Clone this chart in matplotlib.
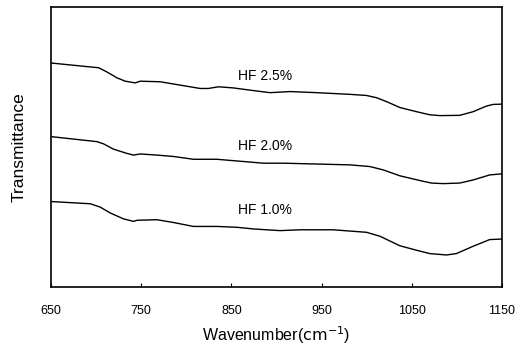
import matplotlib.pyplot as plt

plt.rcParams['font.family'] = ['Liberation Sans', 'DejaVu Sans']

# wavenumber (cm-1) and transmittance (arbitrary units)
x_25 = [650, 702.8, 712, 723.1, 732.3, 743.4, 748.9, 771, 793.2, 815.3, 824.5, 835.6,
        852.2, 870.7, 892.8, 914.9, 944.5, 981.4, 999.8, 1010.9, 1022, 1036.7, 1055.2,
        1069.9, 1081, 1103.1, 1117.9, 1132.7, 1140, 1150]
t_25 = [80.0, 78.3, 76.8, 74.7, 73.5, 72.9, 73.5, 73.3, 72.1, 70.9, 70.9, 71.5,
        71.1, 70.3, 69.4, 69.8, 69.4, 68.8, 68.4, 67.6, 66.2, 64.1, 62.6,
        61.5, 61.2, 61.3, 62.6, 64.6, 65.2, 65.3]

x_20 = [650, 700.9, 708.3, 719.4, 734.1, 741.5, 748.9, 767.3, 785.8, 807.9, 833.8,
        852.2, 885.4, 907.6, 944.5, 981.4, 1003.5, 1018.3, 1036.7, 1058.9, 1071.8,
        1084.7, 1103.1, 1117.9, 1136.3, 1150]
t_20 = [53.7, 51.9, 51.1, 49.2, 47.7, 47.1, 47.5, 47.1, 46.6, 45.6, 45.6,
        45.1, 44.2, 44.2, 43.9, 43.6, 43.0, 41.8, 39.7, 38.0, 37.1,
        36.9, 37.1, 38.2, 40.0, 40.4]

x_10 = [650, 693.5, 704.6, 715.7, 730.4, 741.5, 745.2, 767.3, 785.8, 807.9, 833.8,
        855.9, 874.4, 903.9, 926.0, 962.9, 999.8, 1014.6, 1036.7, 1055.2, 1069.9,
        1088.4, 1099.4, 1117.9, 1136.3, 1150]
t_10 = [30.5, 29.7, 28.5, 26.4, 24.3, 23.4, 23.8, 24.0, 23.0, 21.6, 21.6,
        21.3, 20.7, 20.1, 20.4, 20.4, 19.5, 18.1, 14.7, 13.1, 11.9,
        11.4, 11.9, 14.5, 16.9, 17.1]

labels = ['HF 2.5%', 'HF 2.0%', 'HF 1.0%']
label_y = [75.3, 50.3, 27.6]
xticks = [650, 750, 850, 950, 1050, 1150]

fig = plt.figure(figsize=(5.27, 3.52), dpi=100)
ax = fig.add_axes([0.0968, 0.185, 0.8558, 0.795])

for xs, ts in [(x_25, t_25), (x_20, t_20), (x_10, t_10)]:
    ax.plot(xs, ts, color='black', linewidth=1.0)

for lab, ly in zip(labels, label_y):
    ax.text(887, ly, lab, ha='center', va='center', fontsize=10)

ax.set_xlim(650, 1150)
ax.set_ylim(0, 100)
ax.set_xticks(xticks)
ax.set_yticks([])
ax.tick_params(axis='x', direction='in', length=3, pad=13, labelsize=9)
for s in ax.spines.values():
    s.set_linewidth(1.2)

ax.set_xlabel('Wavenumber(${\\rm cm}^{-1}$)', fontsize=11.5, labelpad=5)
ax.set_ylabel('Transmittance', fontsize=12.5)
ax.yaxis.set_label_coords(-0.053, 0.5)

fig.savefig('out.png', dpi=100)
